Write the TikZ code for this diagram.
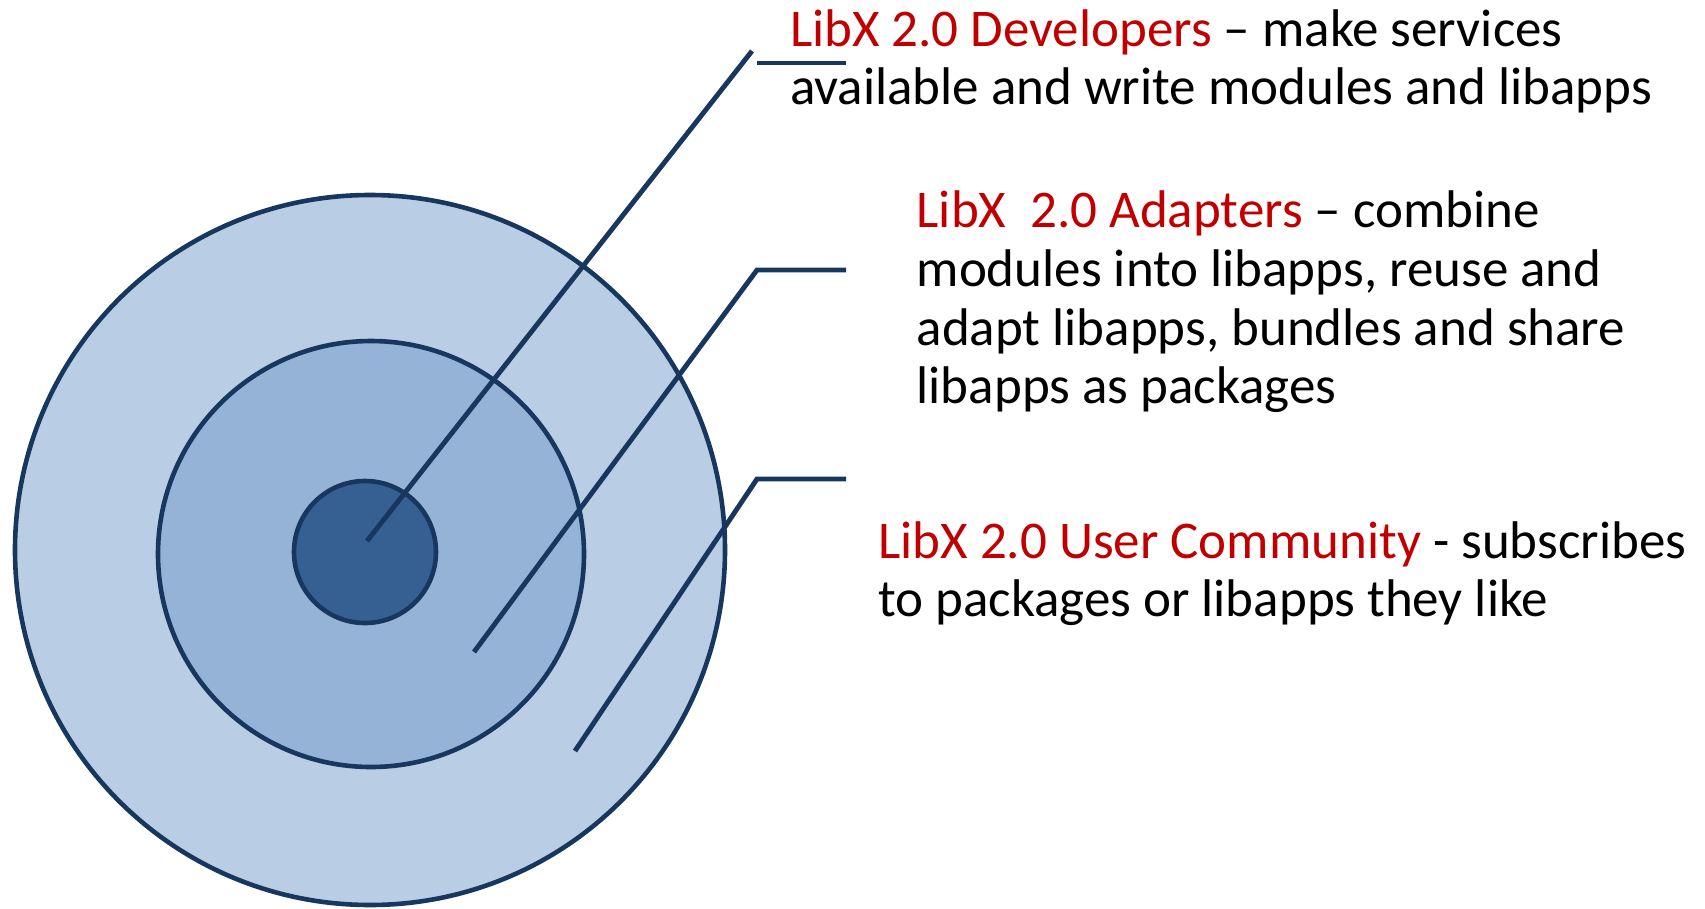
\documentclass[tikz,border=0pt]{standalone}
\usepackage{fontspec}
\setmainfont{Carlito}
\definecolor{ringline}{HTML}{17375E}
\definecolor{outerfill}{HTML}{B9CDE5}
\definecolor{midfill}{HTML}{95B3D7}
\definecolor{innerfill}{HTML}{376092}
\definecolor{labred}{HTML}{C00000}
\tikzset{
  ring/.style={draw=ringline, line width=4.6pt},
  leader/.style={draw=ringline, line width=4.9pt},
  txt/.style={anchor=base west, inner sep=0pt, outer sep=0pt, font=\fontsize{53}{58}\selectfont},
}
\begin{document}
\begin{tikzpicture}[x=1pt,y=-1pt]
\useasboundingbox (0,0) rectangle (1705,908);
% rings
\draw[ring, fill=outerfill] (370,550) circle[radius=355];
\draw[ring, fill=midfill] (371,554) circle[radius=213];
\draw[ring, fill=innerfill] (365,552) circle[radius=71];
% leader anchors
\coordinate (p1a) at (367,541);
\coordinate (p1b) at (752,51);
\coordinate (h1a) at (757,63);
\coordinate (h1b) at (846,63);
\coordinate (p2a) at (474,652);
\coordinate (p2b) at (757,270);
\coordinate (h2b) at (846,270);
\coordinate (p3a) at (575,751);
\coordinate (p3b) at (757,479);
\coordinate (h3b) at (846,479);
\draw[leader] (p1a) -- (p1b);
\draw[leader] (h1a) -- (h1b);
\draw[leader] (p2a) -- (p2b) -- (h2b);
\draw[leader] (p3a) -- (p3b) -- (h3b);
% texts
\node[txt] (dev1) at (790,46.7) {\textcolor{labred}{LibX 2.0 Developers} – make services};
\node[txt] (dev2) at (790,104.5) {available and write modules and libapps};
\node[txt] (ad1) at (916.7,227.7) {\textcolor{labred}{LibX\ \ 2.0 Adapters} – combine};
\node[txt] (ad2) at (916.7,286.3) {modules into libapps, reuse and};
\node[txt] (ad3) at (916.7,345) {adapt libapps, bundles and share};
\node[txt] (ad4) at (916.7,403.7) {libapps as packages};
\node[txt] (uc1) at (878.3,558.3) {\textcolor{labred}{LibX 2.0 User Community} - subscribes};
\node[txt] (uc2) at (878.3,616.7) {to packages or libapps they like};
\end{tikzpicture}
\end{document}
